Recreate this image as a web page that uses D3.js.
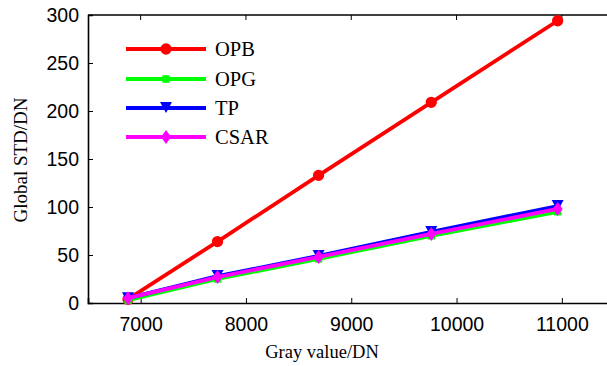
<!DOCTYPE html>
<html>
<head>
<meta charset="utf-8">
<script src="https://cdn.jsdelivr.net/npm/d3@7"></script>
<style>
  body { margin: 0; background: #fff; }
  svg { display: block; }
</style>
</head>
<body>
<svg id="chart" width="607" height="366"></svg>
<script>
const grayValues = [6880, 7730, 8690, 9760, 10960];
const opb = [4, 64, 133, 209, 294];
const opg = [3, 25, 46, 70, 95];
const tp = [5, 28, 49, 74, 101];
const csar = [5, 27, 48, 72, 98];
const xTicks = [7000, 8000, 9000, 10000, 11000];
const yTicks = [0, 50, 100, 150, 200, 250, 300];

const seriesNames = ["OPB", "OPG", "TP", "CSAR"];
const seriesValues = [opb, opg, tp, csar];
const colors = ["#ff0000", "#00ff00", "#0000ff", "#ff00ff"];
const symbols = [d3.symbolCircle, d3.symbolSquare, "triDown", d3.symbolDiamond];

const svg = d3.select("#chart");

const x = d3.scaleLinear().domain([6500, 11500]).range([88, 614.5]);
const y = d3.scaleLinear().domain([0, 300]).range([303, 15]);

const sans = "Liberation Sans, Arial, sans-serif";
const serif = "Liberation Serif, Times New Roman, serif";

// axes (ticks pointing inward, like matlab)
svg.append("g")
  .attr("transform", "translate(0,303)")
  .call(d3.axisBottom(x).tickValues(xTicks).tickSize(-5).tickPadding(14).tickFormat(d3.format("d")))
  .call(g => g.select(".domain").attr("stroke-width", 1.6))
  .call(g => g.selectAll("text").style("font-family", sans).style("font-size", "19.5px").attr("fill", "#000"));

svg.append("g")
  .attr("transform", "translate(88,0)")
  .call(d3.axisLeft(y).tickValues(yTicks).tickSize(-5).tickPadding(9))
  .call(g => g.select(".domain").attr("stroke-width", 1.6))
  .call(g => g.selectAll("text").style("font-family", sans).style("font-size", "19.5px").attr("fill", "#000"));

// top border
svg.append("line")
  .attr("x1", 88).attr("x2", 614.5)
  .attr("y1", 15).attr("y2", 15)
  .attr("stroke", "#000").attr("stroke-width", 1.6);

// top ticks
svg.selectAll("line.ttick")
  .data(xTicks)
  .enter().append("line")
  .attr("class", "ttick")
  .attr("x1", d => x(d)).attr("x2", d => x(d))
  .attr("y1", 15).attr("y2", 20)
  .attr("stroke", "#000");

function markerPath(sym) {
  if (sym === "triDown") {
    return "M-6,-6L6,-6L0,5Z";
  }
  if (sym === d3.symbolDiamond) {
    return "M0,-7L5,0L0,7L-5,0Z";
  }
  if (sym === d3.symbolSquare) {
    return d3.symbol().type(sym).size(55)();
  }
  return d3.symbol().type(sym).size(100)();
}

const line = d3.line()
  .x((d, i) => x(grayValues[i]))
  .y(d => y(d));

seriesValues.forEach((vals, k) => {
  svg.append("path")
    .datum(vals)
    .attr("d", line)
    .attr("fill", "none")
    .attr("stroke", colors[k])
    .attr("stroke-width", 3.8)
    .attr("stroke-linejoin", "round");
  svg.selectAll(null)
    .data(vals)
    .enter().append("path")
    .attr("transform", (d, i) => "translate(" + x(grayValues[i]) + "," + y(d) + ")")
    .attr("d", markerPath(symbols[k]))
    .attr("fill", colors[k]);
});

// legend
const legendY = [49, 79, 108, 137];
seriesNames.forEach((name, k) => {
  const g = svg.append("g").attr("transform", "translate(0," + legendY[k] + ")");
  g.append("line")
    .attr("x1", 126).attr("x2", 206)
    .attr("stroke", colors[k]).attr("stroke-width", 3.8);
  g.append("path")
    .attr("transform", "translate(166,0)")
    .attr("d", markerPath(symbols[k]))
    .attr("fill", colors[k]);
  g.append("text")
    .attr("x", 215).attr("y", 7)
    .style("font-family", serif)
    .style("font-size", "20.5px")
    .text(name);
});

// axis labels
svg.append("text")
  .attr("x", 322).attr("y", 358)
  .attr("text-anchor", "middle")
  .style("font-family", serif)
  .style("font-size", "18.5px")
  .text("Gray value/DN");

svg.append("text")
  .attr("transform", "translate(27,160) rotate(-90)")
  .attr("text-anchor", "middle")
  .style("font-family", serif)
  .style("font-size", "19px")
  .text("Global STD/DN");
</script>
</body>
</html>
